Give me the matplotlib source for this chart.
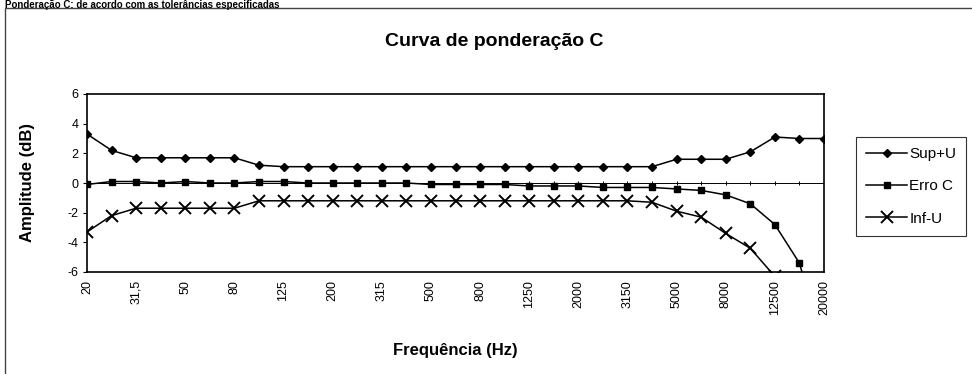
import numpy as np
import matplotlib
matplotlib.use("Agg")
import matplotlib.pyplot as plt
from matplotlib.patches import Rectangle

plt.rcParams['font.family'] = ['Liberation Sans', 'DejaVu Sans']
plt.rcParams['axes.unicode_minus'] = False

# bandas de 1/3 de oitava
freqs = ['20', '25', '31,5', '40', '50', '63', '80', '100', '125', '160',
         '200', '250', '315', '400', '500', '630', '800', '1000', '1250', '1600',
         '2000', '2500', '3150', '4000', '5000', '6300', '8000', '10000',
         '12500', '16000', '20000']

sup_u = [3.3, 2.2, 1.7, 1.7, 1.7, 1.7, 1.7, 1.2, 1.1, 1.1,
         1.1, 1.1, 1.1, 1.1, 1.1, 1.1, 1.1, 1.1, 1.1, 1.1,
         1.1, 1.1, 1.1, 1.1, 1.6, 1.6, 1.6, 2.1, 3.1, 3.0, 3.0]

erro_c = [-0.1, 0.1, 0.1, 0.0, 0.1, 0.0, 0.0, 0.1, 0.1, 0.0,
          0.0, 0.0, 0.0, 0.0, -0.1, -0.1, -0.1, -0.1, -0.2, -0.2,
          -0.2, -0.3, -0.3, -0.3, -0.4, -0.5, -0.8, -1.4, -2.8, -5.4, -11.2]

inf_u = [-3.3, -2.2, -1.7, -1.7, -1.7, -1.7, -1.7, -1.2, -1.2, -1.2,
         -1.2, -1.2, -1.2, -1.2, -1.2, -1.2, -1.2, -1.2, -1.2, -1.2,
         -1.2, -1.2, -1.2, -1.3, -1.9, -2.3, -3.4, -4.4, -6.3, np.nan, np.nan]

x = np.arange(len(freqs))
narrow = ['Liberation Sans Narrow', 'Liberation Sans', 'DejaVu Sans']

fig = plt.figure(figsize=(9.72, 3.74), dpi=100)
ax = fig.add_axes([87 / 972, 1 - 272 / 374, (824 - 87) / 972, (272 - 94) / 374])

ax.plot(x, sup_u, color='black', lw=1.1, marker='D', ms=4, label='Sup+U')
ax.plot(x, erro_c, color='black', lw=1.1, marker='s', ms=5, label='Erro C')
ax.plot(x, inf_u, color='black', lw=1.1, marker='x', ms=8, mew=1.4, label='Inf-U')

# eixo das categorias cruzando em 0
ax.axhline(0, color='black', lw=0.7, zorder=1)
ax.vlines(x, -0.12, 0.12, color='black', lw=0.7, zorder=1)

ax.set_xlim(0, len(freqs) - 1)
ax.set_ylim(-6, 6)
ax.set_yticks(range(-6, 7, 2))
ax.set_xticks(x[::2])
ax.set_xticklabels(freqs[::2], rotation=90, va='top', ha='center',
                   fontsize=9, family=narrow)
for t in ax.get_yticklabels():
    t.set_family(narrow)
ax.tick_params(axis='x', length=0, pad=6)
ax.tick_params(axis='y', length=3, width=0.8, labelsize=9, pad=3)
for s in ax.spines.values():
    s.set_linewidth(1.2)

ax.set_ylabel('Amplitude (dB)', fontsize=12, fontweight='bold')
ax.yaxis.set_label_coords(-0.07, 0.5)
fig.text(0.468, 1 - 351 / 374, 'Frequência (Hz)', fontsize=12, fontweight='bold',
         ha='center', va='center')
fig.text(0.508, 1 - 42 / 374, 'Curva de ponderação C', fontsize=14,
         fontweight='bold', ha='center', va='center')

# legenda de lado
leg = fig.legend(loc='upper left', bbox_to_anchor=(856 / 972, 1 - 137 / 374),
                 fontsize=11, frameon=True, fancybox=False, edgecolor='black',
                 handlelength=2.7, handletextpad=0.15, labelspacing=1.2,
                 borderpad=0.65, borderaxespad=0)
leg.get_frame().set_linewidth(0.8)

# moldura do gráfico e legenda do documento no topo
fig.patches.append(Rectangle((5 / 972, -0.05), 1.0, 1 - 8 / 374 + 0.05,
                             transform=fig.transFigure, fill=False,
                             edgecolor='#444444', lw=1.0))
fig.text(0.005, 0.999, 'Ponderação C: de acordo com as tolerâncias especificadas',
         fontsize=7, fontweight='bold', ha='left', va='top')

fig.savefig('out.png', dpi=100)
